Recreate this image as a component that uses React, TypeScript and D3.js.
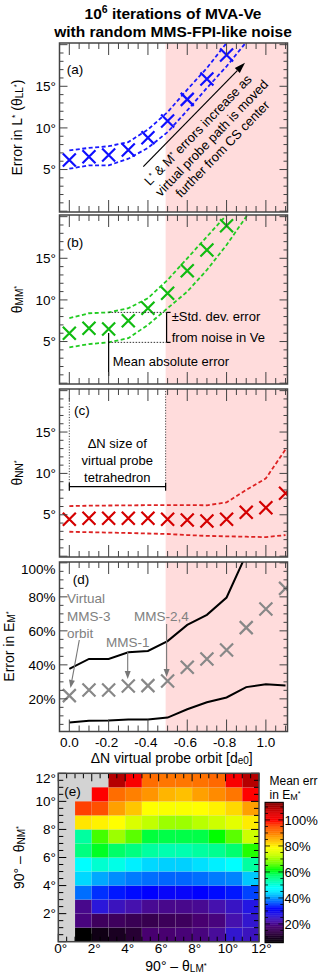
import React from "react";
import * as d3 from "d3";

const FONT = "'Liberation Sans', Arial, Helvetica, sans-serif";

// ---------- data ----------
const orbitX = [0, 0.1, 0.2, 0.3, 0.4, 0.5, 0.6, 0.7, 0.8, 0.9, 1.0, 1.1];
const xTickVals = [0, 0.2, 0.4, 0.6, 0.8, 1.0];
const xTickLabels = ["0.0", "-0.2", "-0.4", "-0.6", "-0.8", "1.0"];

const errLL = [6.14, 6.54, 6.74, 7.34, 8.82, 10.82, 13.43, 15.87, 18.75];
const errLLHi = [7.3, 7.6, 7.8, 8.3, 9.8, 11.9, 14.6, 17.2, 20.2, 23];
const errLLLo = [5.1, 5.5, 5.5, 6.3, 7.6, 9.5, 12.1, 14.8, 17.4, 20.3, 23];

const errMM = [6.0, 6.6, 6.5, 7.5, 9.0, 10.8, 13.5, 16.0, 18.9];
const errMMHi = [7.8, 8.4, 8.5, 9.0, 10.2, 12.4, 15.0, 17.6, 20.2, 23];
const errMMLo = [4.3, 4.7, 4.9, 5.4, 7.0, 9.0, 11.0, 13.6, 16.6, 20.0, 23];

const errNN = [4.46, 4.58, 4.58, 4.58, 4.58, 4.46, 4.37, 4.25, 4.46, 5.3, 5.86, 7.6];
const errNNHi = [6.05, 6.1, 6.12, 6.14, 6.16, 6.18, 6.18, 6.15, 6.5, 8.0, 9.4, 12.9];
const errNNLo = [2.95, 2.9, 2.85, 2.8, 2.74, 2.68, 2.55, 2.45, 2.4, 2.35, 2.3, 2.55];

const errEM = [21.9, 25.2, 25.2, 27.6, 27.8, 30.5, 38.6, 43.4, 48.7, 61.9, 72.9, 85.0];
const errEMHi = [37.6, 43.5, 43.5, 47.4, 48.2, 54, 63.5, 69.4, 79.6, 105, 125, 140];
const errEMLo = [6.1, 7.1, 7.2, 7.8, 7.9, 9, 13.9, 18, 20.8, 26.9, 28.6, 27.8];

const angleTicks = [5, 10, 15];
const pctTicks = [20, 40, 60, 80, 100];
const heatTicks = [0, 2, 4, 6, 8, 10, 12];

// heatmap rows from bottom (0-1 deg) to top (11-12 deg); columns 0-1 ... 11-12 deg
const heat0 = [null, 5.6, 8, 9.5, 11.5, 18, 18, 18.5, 19, 21, 25.5, 24];
const heat1 = [null, 19, 16, 16, 15, 14.5, 15.5, 16, 18, 19, 22.5, 25.5];
const heat2 = [null, 20, 26.5, 24, 22.5, 20.5, 20, 20, 20.5, 22.5, 24.5, 27.5];
const heat3 = [null, 37.8, 34.5, 33.2, 32.5, 32, 31, 31, 32, 32.5, 33.2, 35.5];
const heat4 = [null, 44, 41, 39.5, 38.5, 37.8, 37.3, 37.3, 37.8, 38.5, 39, 43];
const heat5 = [null, 48, 51, 49.5, 46, 44, 43.5, 43.5, 44.5, 46, 48, 54];
const heat6 = [null, 56, 60.5, 57.5, 56, 54, 53, 53, 54, 55, 57, 63.5];
const heat7 = [null, 54, 65, 70, 66, 59.5, 59, 59, 59, 62, 66, 73.5];
const heat8 = [null, 81, 80, 79, 75, 72.5, 70, 70, 72, 73.5, 76, 80.5];
const heat9 = [null, 96, 95, 87, 83.5, 79, 78.5, 78.5, 79, 80, 82, 87];
const heat10 = [null, null, 100, 92, 90, 88, 85, 84, 87, 89, 91, 100];
const heat11 = [null, null, null, 109, 101, 92, 91, 91, 91.5, 92.5, 101, 109];
const heatRows = [heat0, heat1, heat2, heat3, heat4, heat5, heat6, heat7, heat8, heat9, heat10, heat11];

const cmapStops = [5.6, 12, 18, 22, 27, 32, 37, 41, 45, 48, 53, 58, 62, 67, 73, 79, 84, 90, 95, 100, 106, 113.6];
const cmapColors = ["#000000", "#2a0038", "#480070", "#4810a8", "#2818e0", "#0000ff", "#0060ff", "#00a8ff", "#00e8ff", "#00ffff", "#00ffb0", "#00ff60", "#00ff00", "#70ff00", "#c8ff00", "#ffff00", "#ffc000", "#ff8000", "#ff5000", "#ff0000", "#d80000", "#800000"];

// ---------- helpers ----------
const FRAME = "#444";
const PINK = "#ffdcdc";

function XMark({ cx, cy, color, s = 6.5 }: any) {
  return (
    <path
      d={`M${cx - s},${cy - s}L${cx + s},${cy + s}M${cx - s},${cy + s}L${cx + s},${cy - s}`}
      stroke={color}
      strokeWidth={2.2}
      fill="none"
    />
  );
}

function Arrow({ x1, y1, x2, y2, color, w = 1.2, head = 9, hw = 3.2 }: any) {
  const dx = x2 - x1, dy = y2 - y1;
  const L = Math.sqrt(dx * dx + dy * dy);
  const ux = dx / L, uy = dy / L;
  const bx = x2 - ux * head, by = y2 - uy * head;
  const px = -uy, py = ux;
  return (
    <g>
      <line x1={x1} y1={y1} x2={bx} y2={by} stroke={color} strokeWidth={w} />
      <path d={`M${x2},${y2}L${bx + px * hw},${by + py * hw}L${bx - px * hw},${by - py * hw}Z`} fill={color} />
    </g>
  );
}

export default function App() {
  const x = d3.scaleLinear().domain([-0.05, 1.11]).range([59.5, 287.5]);
  const X0 = x.range()[0], X1 = x.range()[1];
  const pinkX = x(0.49);

  const panels = [
    { id: "a", top: 43, bot: 212 },
    { id: "b", top: 215, bot: 384 },
    { id: "c", top: 389, bot: 557 },
    { id: "d", top: 562, bot: 731.5 },
  ];
  const yAng = (p: any) => d3.scaleLinear().domain([-0.1, 20.2]).range([p.bot, p.top]);
  const yA = yAng(panels[0]);
  const yB = yAng(panels[1]);
  const yC = yAng(panels[2]);
  const yD = d3.scaleLinear().domain([0.8, 100.5]).range([panels[3].bot, panels[3].top]);

  const mkLine = (ys: any, vals: number[]) =>
    d3.line<number>().x((_, i) => x(orbitX[i])).y((v) => ys(v))(vals) || "";

  const xMinor = d3.range(-0.05, 1.1001, 0.05);
  const isMajorX = (v: number) => v > -0.01 && v < 1.01 && Math.abs(v / 0.2 - Math.round(v / 0.2)) < 1e-6;

  const frameTicksX = (p: any) =>
    xMinor.map((v, i) => {
      const L = isMajorX(v) ? 12 : 6;
      const xx = x(v);
      if (xx <= X0 + 0.5) return null;
      return (
        <g key={"xt" + i}>
          <line x1={xx} x2={xx} y1={p.top} y2={p.top + L} stroke={FRAME} strokeWidth={1} />
          <line x1={xx} x2={xx} y1={p.bot} y2={p.bot - L} stroke={FRAME} strokeWidth={1} />
        </g>
      );
    });

  const frameTicksY = (ys: any, vals: number[], isMajor: (v: number) => boolean) =>
    vals.map((v, i) => {
      const yy = ys(v);
      const L = isMajor(v) ? 8 : 4;
      return (
        <g key={"yt" + i}>
          <line x1={X0} x2={X0 + L} y1={yy} y2={yy} stroke={FRAME} strokeWidth={1} />
          <line x1={X1} x2={X1 - L} y1={yy} y2={yy} stroke={FRAME} strokeWidth={1} />
        </g>
      );
    });

  const angMinor = d3.range(0, 20.01, 1);
  const pctMinor = d3.range(5, 100.01, 5);

  // heatmap scales
  const hx = d3.scaleLinear().domain([0, 12]).range([58.3, 259]);
  const hy = d3.scaleLinear().domain([0, 12]).range([941.7, 773.3]);
  const cmap = d3.scaleLinear<string>().domain(cmapStops).range(cmapColors).clamp(true);
  const cb = d3.scaleLinear().domain([5.6, 113.6]).range([942.7, 802.3]);
  const cbX0 = 265, cbX1 = 283.3;
  const heatMinor = d3.range(0, 12.01, 0.5);

  const tickFont = 13.5;

  const Background = (p: any) => (
    <g key={"bg" + p.id}>
      <rect x={X0} y={p.top} width={X1 - X0} height={p.bot - p.top} fill="#fff" />
      <rect x={pinkX} y={p.top} width={X1 - pinkX} height={p.bot - p.top} fill={PINK} />
    </g>
  );

  return (
    <svg
      width={322}
      height={979}
      style={{ position: "absolute", left: 0, top: 0, background: "#fff" }}
      fontFamily={FONT}
    >
      <defs>
        {panels.map((p) => (
          <clipPath id={"clip" + p.id} key={p.id}>
            <rect x={X0} y={p.top} width={X1 - X0} height={p.bot - p.top} />
          </clipPath>
        ))}
      </defs>

      {/* title */}
      <text x={173} y={18.5} textAnchor="middle" fontSize={15.5} fontWeight="bold">
        10<tspan dy={-6} fontSize={10.5}>6</tspan>
        <tspan dy={6}> iterations of MVA-Ve</tspan>
      </text>
      <text x={173} y={37.3} textAnchor="middle" fontSize={15.5} fontWeight="bold">
        with random MMS-FPI-like noise
      </text>

      {panels.map((p) => Background(p))}

      {/* panel a */}
      <g clipPath="url(#clipa)">
        <path d={mkLine(yA, errLLHi)} stroke="#1a1aff" strokeWidth={1.8} strokeDasharray="4,2.5" fill="none" />
        <path d={mkLine(yA, errLLLo)} stroke="#1a1aff" strokeWidth={1.8} strokeDasharray="4,2.5" fill="none" />
        {errLL.map((v, i) => (
          <XMark key={i} cx={x(orbitX[i])} cy={yA(v)} color="#1010ff" />
        ))}
      </g>
      <Arrow x1={143.3} y1={166.7} x2={245} y2={62.7} color="#000" w={1.2} head={11} hw={3.5} />
      <g transform="translate(211.7,138) rotate(-46)" fontSize={13}>
        <text x={-3.8} y={-10.9} textAnchor="middle">
          L<tspan dy={-4} fontSize={8}>*</tspan>
          <tspan dy={4}> &amp; M</tspan>
          <tspan dy={-4} fontSize={8}>*</tspan>
          <tspan dy={4}> errors increase as</tspan>
        </text>
        <text x={0} y={4.5} textAnchor="middle">virtual probe path is moved</text>
        <text x={-0.4} y={19.9} textAnchor="middle">further from CS center</text>
      </g>
      <text x={66.7} y={74} fontSize={13.5}>(a)</text>

      {/* panel b */}
      <g clipPath="url(#clipb)">
        <path d={mkLine(yB, errMMHi)} stroke="#22cc22" strokeWidth={1.8} strokeDasharray="4,2.5" fill="none" />
        <path d={mkLine(yB, errMMLo)} stroke="#22cc22" strokeWidth={1.8} strokeDasharray="4,2.5" fill="none" />
        {errMM.map((v, i) => (
          <XMark key={i} cx={x(orbitX[i])} cy={yB(v)} color="#11bb11" />
        ))}
      </g>
      <line x1={x(0.2)} x2={x(0.5) - 1} y1={yB(errMMHi[2])} y2={yB(errMMHi[2])} stroke="#333" strokeWidth={1} strokeDasharray="1.5,1.5" />
      <line x1={x(0.2)} x2={x(0.5) - 1} y1={yB(errMMLo[2])} y2={yB(errMMLo[2])} stroke="#333" strokeWidth={1} strokeDasharray="1.5,1.5" />
      <line x1={x(0.5) - 1} x2={x(0.5) - 1} y1={yB(errMMHi[2])} y2={yB(errMMLo[2])} stroke="#000" strokeWidth={1.2} />
      <line x1={x(0.5) - 1} x2={x(0.5) + 3} y1={yB(errMMHi[2])} y2={yB(errMMHi[2])} stroke="#000" strokeWidth={1.2} />
      <line x1={x(0.5) - 1} x2={x(0.5) + 3} y1={yB(errMMLo[2])} y2={yB(errMMLo[2])} stroke="#000" strokeWidth={1.2} />
      <text x={171.7} y={321} fontSize={13}>±Std. dev. error</text>
      <text x={171.7} y={341.5} fontSize={13}>from noise in Ve</text>
      <line x1={x(0.2)} x2={x(0.2)} y1={yB(errMM[2]) + 4} y2={376} stroke="#000" strokeWidth={1.2} />
      <text x={112.7} y={365.5} fontSize={13}>Mean absolute error</text>
      <text x={66.7} y={246.5} fontSize={13.5}>(b)</text>

      {/* panel c */}
      <g clipPath="url(#clipc)">
        <path d={mkLine(yC, errNNHi)} stroke="#dd2222" strokeWidth={1.8} strokeDasharray="4,2.5" fill="none" />
        <path d={mkLine(yC, errNNLo)} stroke="#dd2222" strokeWidth={1.8} strokeDasharray="4,2.5" fill="none" />
        {errNN.map((v, i) => (
          <XMark key={i} cx={x(orbitX[i])} cy={yC(v)} color="#d40000" />
        ))}
      </g>
      <line x1={x(0)} x2={x(0)} y1={398} y2={487} stroke="#333" strokeWidth={0.9} strokeDasharray="1.2,1.5" />
      <line x1={pinkX} x2={pinkX} y1={391} y2={487} stroke="#333" strokeWidth={0.9} strokeDasharray="1.2,1.5" />
      <line x1={x(0)} x2={pinkX} y1={486.7} y2={486.7} stroke="#000" strokeWidth={1.2} />
      <line x1={x(0)} x2={x(0)} y1={482.7} y2={490.7} stroke="#000" strokeWidth={1.2} />
      <line x1={pinkX} x2={pinkX} y1={482.7} y2={490.7} stroke="#000" strokeWidth={1.2} />
      <text x={117.3} y={448} textAnchor="middle" fontSize={13}>ΔN size of</text>
      <text x={117.3} y={465} textAnchor="middle" fontSize={13}>virtual probe</text>
      <text x={117.3} y={482} textAnchor="middle" fontSize={13}>tetrahedron</text>
      <text x={74} y={415} fontSize={13.5}>(c)</text>

      {/* panel d */}
      <g clipPath="url(#clipd)">
        <path d={mkLine(yD, errEMHi)} stroke="#000" strokeWidth={2} fill="none" />
        <path d={mkLine(yD, errEMLo)} stroke="#000" strokeWidth={2} fill="none" />
        {errEM.map((v, i) => (
          <XMark key={i} cx={x(orbitX[i])} cy={yD(v)} color="#888" />
        ))}
      </g>
      <text x={72.7} y={584} fontSize={13.5}>(d)</text>
      <g fill="#808080" fontSize={13.5}>
        <text x={67} y={603}>Virtual</text>
        <text x={67} y={621}>MMS-3</text>
        <text x={67} y={637.5}>orbit</text>
        <text x={134} y={621}>MMS-2,4</text>
        <text x={106} y={647}>MMS-1</text>
      </g>
      <Arrow x1={79.3} y1={640} x2={70.5} y2={688} color="#777" w={1.1} head={8} hw={3} />
      <Arrow x1={127.7} y1={651} x2={127.7} y2={679} color="#777" w={1.1} head={8} hw={3} />
      <Arrow x1={x(0.5) - 1} y1={624} x2={x(0.5) - 1} y2={677} color="#777" w={1.1} head={8} hw={3} />

      {/* frames and ticks for a-d */}
      {panels.map((p, k) => {
        const ys = k === 0 ? yA : k === 1 ? yB : k === 2 ? yC : yD;
        const isD = k === 3;
        return (
          <g key={"fr" + p.id}>
            {frameTicksX(p)}
            {isD
              ? frameTicksY(ys, pctMinor, (v) => v % 20 === 0)
              : frameTicksY(ys, angMinor, (v) => v % 5 === 0)}
            <rect x={X0} y={p.top} width={X1 - X0} height={p.bot - p.top} fill="none" stroke={FRAME} strokeWidth={1.5} />
            {isD
              ? pctTicks.map((v) => (
                  <text key={v} x={55.5} y={Math.max(ys(v), p.top + 7) + 4.7} textAnchor="end" fontSize={tickFont}>
                    {v}%
                  </text>
                ))
              : angleTicks.map((v) => (
                  <text key={v} x={56} y={ys(v) + 4.7} textAnchor="end" fontSize={tickFont}>
                    {v}°
                  </text>
                ))}
          </g>
        );
      })}

      {/* y titles */}
      <text transform="translate(17,127.5) rotate(-90)" textAnchor="middle" dy="0.35em" fontSize={14}>
        Error in L<tspan dy={-4} fontSize={8.5}>*</tspan>
        <tspan dy={4}> (θ</tspan>
        <tspan fontSize={10} dy={1}>LL</tspan>
        <tspan fontSize={7.5} dy={-4}>*</tspan>
        <tspan dy={3}>)</tspan>
      </text>
      <text transform="translate(17,299.5) rotate(-90)" textAnchor="middle" dy="0.35em" fontSize={14}>
        θ<tspan fontSize={10} dy={1}>MM</tspan>
        <tspan fontSize={7.5} dy={-4}>*</tspan>
      </text>
      <text transform="translate(17,473) rotate(-90)" textAnchor="middle" dy="0.35em" fontSize={14}>
        θ<tspan fontSize={10} dy={1}>NN</tspan>
        <tspan fontSize={7.5} dy={-4}>*</tspan>
      </text>
      <text transform="translate(9,646.5) rotate(-90)" textAnchor="middle" dy="0.35em" fontSize={14}>
        Error in E<tspan fontSize={10} dy={1}>M</tspan>
        <tspan fontSize={7.5} dy={-4}>*</tspan>
      </text>

      {/* x axis of d */}
      {xTickVals.map((v, i) => (
        <text key={i} x={x(v) - (xTickLabels[i].startsWith("-") ? 2 : 0)} y={746.5} textAnchor="middle" fontSize={tickFont}>
          {xTickLabels[i]}
        </text>
      ))}
      <text x={171.7} y={762.5} textAnchor="middle" fontSize={14}>
        ΔN virtual probe orbit [d<tspan fontSize={10} dy={1}>e0</tspan>
        <tspan dy={-1}>]</tspan>
      </text>

      {/* heatmap */}
      <rect x={hx(0)} y={hy(12)} width={hx(12) - hx(0)} height={hy(0) - hy(12)} fill="#d3d3d3" />
      {heatRows.map((row, r) =>
        row.map((v, c) =>
          v == null ? null : (
            <rect
              key={r + "-" + c}
              x={hx(c)}
              y={hy(r + 1)}
              width={hx(c + 1) - hx(c)}
              height={hy(r) - hy(r + 1)}
              fill={cmap(v)}
              stroke="rgba(255,255,255,0.12)"
              strokeWidth={0.6}
            />
          )
        )
      )}
      {heatMinor.map((v, i) => {
        const maj = v % 2 === 0;
        const L = maj ? 8 : 5;
        const xx = hx(v), yy = hy(v);
        return (
          <g key={"ht" + i} stroke="#000" strokeWidth={1}>
            <line x1={xx} x2={xx} y1={hy(12)} y2={hy(12) + L} />
            <line x1={xx} x2={xx} y1={hy(0)} y2={hy(0) - L} />
            <line x1={hx(0)} x2={hx(0) + L} y1={yy} y2={yy} />
            <line x1={hx(12)} x2={hx(12) - L} y1={yy} y2={yy} />
          </g>
        );
      })}
      <rect x={hx(0)} y={hy(12)} width={hx(12) - hx(0)} height={hy(0) - hy(12)} fill="none" stroke={FRAME} strokeWidth={1.5} />
      <text x={64.3} y={796} fontSize={13.5}>(e)</text>
      {heatTicks.map((v) => (
        <text key={"hxl" + v} x={hx(v) + 2.5} y={952.5} textAnchor="middle" fontSize={tickFont}>
          {v}°
        </text>
      ))}
      {heatTicks.filter((v) => v > 0).map((v) => (
        <text key={"hyl" + v} x={56} y={Math.max(hy(v), hy(12) + 5) + 4.7} textAnchor="end" fontSize={tickFont}>
          {v}°
        </text>
      ))}
      <text x={176} y={971} textAnchor="middle" fontSize={14}>
        90° – θ<tspan fontSize={10} dy={1}>LM</tspan>
        <tspan fontSize={7.5} dy={-4}>*</tspan>
      </text>
      <text transform="translate(19,857.5) rotate(-90)" textAnchor="middle" dy="0.35em" fontSize={14}>
        90° – θ<tspan fontSize={10} dy={1}>NM</tspan>
        <tspan fontSize={7.5} dy={-4}>*</tspan>
      </text>

      {/* colorbar */}
      {d3.range(5.6, 113.6, 0.5).map((v, i) => (
        <rect key={"cb" + i} x={cbX0} y={cb(v + 0.5) - 0.2} width={cbX1 - cbX0} height={cb(v) - cb(v + 0.5) + 0.4} fill={cmap(v + 0.25)} />
      ))}
      {d3.range(10, 113, 5).map((v) => {
        const L = v % 20 === 0 ? 5 : 3;
        return (
          <g key={"cbt" + v} stroke="#000" strokeWidth={0.8}>
            <line x1={cbX0} x2={cbX0 + L} y1={cb(v)} y2={cb(v)} />
            <line x1={cbX1} x2={cbX1 - L} y1={cb(v)} y2={cb(v)} />
          </g>
        );
      })}
      <rect x={cbX0} y={cb(113.6)} width={cbX1 - cbX0} height={cb(5.6) - cb(113.6)} fill="none" stroke="#000" strokeWidth={1} />
      {pctTicks.map((v) => (
        <text key={"cbl" + v} x={284.5} y={cb(v) + 4.7} fontSize={13}>
          {v}%
        </text>
      ))}
      <text x={269.5} y={784.5} fontSize={12}>Mean err</text>
      <text x={269.5} y={798.5} fontSize={12}>
        in E<tspan fontSize={9} dy={1}>M</tspan>
        <tspan fontSize={7} dy={-4}>*</tspan>
      </text>
    </svg>
  );
}
